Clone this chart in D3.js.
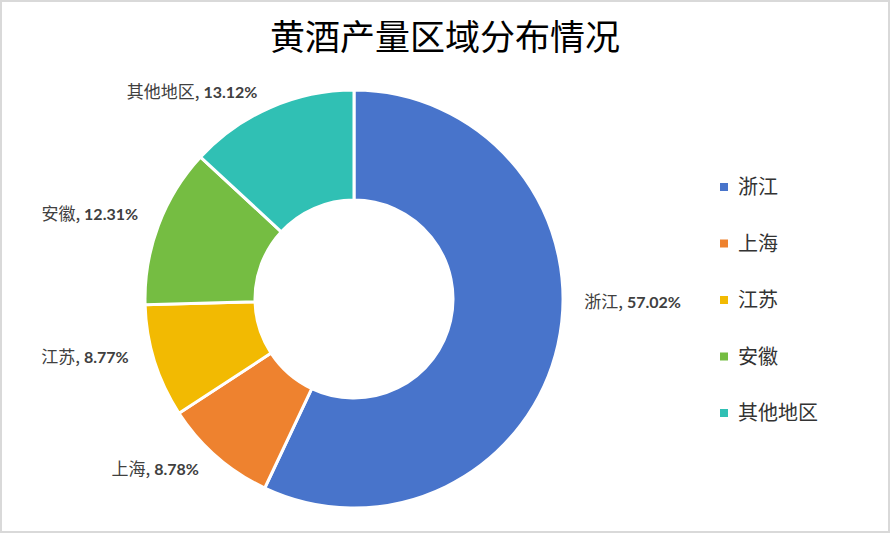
<!DOCTYPE html>
<html>
<head>
<meta charset="utf-8">
<script src="https://cdn.jsdelivr.net/npm/d3@7"></script>
<style>
  html, body { margin: 0; padding: 0; background: #fff; }
  svg { display: block; }
</style>
</head>
<body>
<div id="chart"></div>
<script>
const title = '黄酒产量区域分布情况';
const regions = ['浙江', '上海', '江苏', '安徽', '其他地区'];
const shares = [57.02, 8.78, 8.77, 12.31, 13.12];
const colors = ['#4874CB', '#EE822F', '#F2BA02', '#75BD42', '#30C0B4'];

const width = 890;
const height = 533;
const cx = 354, cy = 299;
const outerR = 209, innerR = 99;
const labelR = 236;
// small nudges so labels sit where the original put them
const labelNudge = [[0, -48], [0, -8], [0, -12], [5, -2], [-2, 10]];

const data = regions.map((r, i) => ({ name: r, value: shares[i], color: colors[i] }));

const svg = d3.select('#chart').append('svg')
  .attr('width', width)
  .attr('height', height);

svg.append('rect')
  .attr('x', 1).attr('y', 1)
  .attr('width', width - 2).attr('height', height - 2)
  .attr('fill', '#fff')
  .attr('stroke', '#d9d9d9')
  .attr('stroke-width', 2);

svg.append('text')
  .attr('x', 445)
  .attr('y', 50)
  .attr('text-anchor', 'middle')
  .attr('font-family', '"Noto Sans CJK SC", sans-serif')
  .attr('font-size', 35)
  .attr('fill', '#000')
  .text(title);

const pie = d3.pie().sort(null).value(d => d.value);
const arc = d3.arc().innerRadius(innerR).outerRadius(outerR);
const labelArc = d3.arc().innerRadius(labelR).outerRadius(labelR);

const g = svg.append('g').attr('transform', `translate(${cx},${cy})`);
const arcs = pie(data);

g.selectAll('path').data(arcs)
  .enter().append('path')
  .attr('d', arc)
  .attr('fill', d => d.data.color)
  .attr('stroke', '#fff')
  .attr('stroke-width', 3)
  .attr('stroke-linejoin', 'miter');

const labels = g.selectAll('text.lbl').data(arcs)
  .enter().append('text')
  .attr('class', 'lbl')
  .attr('transform', (d, i) => {
    const p = labelArc.centroid(d);
    return `translate(${p[0] + labelNudge[i][0]},${p[1] + labelNudge[i][1]})`;
  })
  .attr('dy', '0.35em')
  .attr('text-anchor', d => ((d.startAngle + d.endAngle) / 2 > Math.PI ? 'end' : 'start'))
  .attr('font-size', 16)
  .attr('fill', '#404040');

labels.append('tspan')
  .attr('font-family', '"Noto Sans CJK SC", sans-serif')
  .attr('font-size', 17)
  .text(d => d.data.name + ',');
labels.append('tspan')
  .attr('font-family', 'Lato, "Liberation Sans", sans-serif')
  .attr('font-weight', 'bold')
  .text(d => ' ' + d.data.value.toFixed(2) + '%');

const legendY = d3.scalePoint().domain(regions).range([187, 413]);

const legend = svg.append('g').selectAll('g').data(data)
  .enter().append('g')
  .attr('transform', d => `translate(720,${legendY(d.name)})`);

legend.append('rect')
  .attr('x', 0).attr('y', -4)
  .attr('width', 8).attr('height', 8)
  .attr('fill', d => d.color);

legend.append('text')
  .attr('x', 18)
  .attr('dy', '0.36em')
  .attr('font-family', '"Noto Sans CJK SC", sans-serif')
  .attr('font-size', 20)
  .attr('fill', '#333')
  .text(d => d.name);
</script>
</body>
</html>
